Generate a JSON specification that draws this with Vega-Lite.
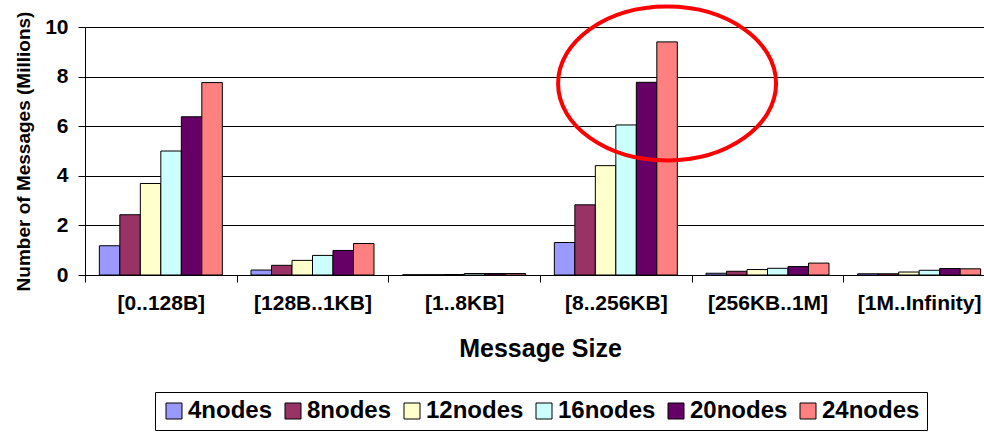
{
  "$schema": "https://vega.github.io/schema/vega-lite/v6.json",
  "autosize": "none",
  "width": 910,
  "height": 248,
  "padding": {"left": 85, "top": 27, "right": 0, "bottom": 157},
  "background": "white",
  "config": {"view": {"stroke": null}, "font": "Liberation Sans"},
  "layer": [
    {
      "data": {"values": [
        {"size": "[0..128B]", "nodes": "4nodes", "value": 1.18},
        {"size": "[0..128B]", "nodes": "8nodes", "value": 2.43},
        {"size": "[0..128B]", "nodes": "12nodes", "value": 3.69},
        {"size": "[0..128B]", "nodes": "16nodes", "value": 5.0},
        {"size": "[0..128B]", "nodes": "20nodes", "value": 6.38},
        {"size": "[0..128B]", "nodes": "24nodes", "value": 7.76},
        {"size": "[128B..1KB]", "nodes": "4nodes", "value": 0.2},
        {"size": "[128B..1KB]", "nodes": "8nodes", "value": 0.39},
        {"size": "[128B..1KB]", "nodes": "12nodes", "value": 0.59},
        {"size": "[128B..1KB]", "nodes": "16nodes", "value": 0.79},
        {"size": "[128B..1KB]", "nodes": "20nodes", "value": 0.99},
        {"size": "[128B..1KB]", "nodes": "24nodes", "value": 1.27},
        {"size": "[1..8KB]", "nodes": "4nodes", "value": 0.01},
        {"size": "[1..8KB]", "nodes": "8nodes", "value": 0.01},
        {"size": "[1..8KB]", "nodes": "12nodes", "value": 0.02},
        {"size": "[1..8KB]", "nodes": "16nodes", "value": 0.06},
        {"size": "[1..8KB]", "nodes": "20nodes", "value": 0.06},
        {"size": "[1..8KB]", "nodes": "24nodes", "value": 0.06},
        {"size": "[8..256KB]", "nodes": "4nodes", "value": 1.31},
        {"size": "[8..256KB]", "nodes": "8nodes", "value": 2.83},
        {"size": "[8..256KB]", "nodes": "12nodes", "value": 4.41},
        {"size": "[8..256KB]", "nodes": "16nodes", "value": 6.05},
        {"size": "[8..256KB]", "nodes": "20nodes", "value": 7.77},
        {"size": "[8..256KB]", "nodes": "24nodes", "value": 9.4},
        {"size": "[256KB..1M]", "nodes": "4nodes", "value": 0.07},
        {"size": "[256KB..1M]", "nodes": "8nodes", "value": 0.15},
        {"size": "[256KB..1M]", "nodes": "12nodes", "value": 0.22},
        {"size": "[256KB..1M]", "nodes": "16nodes", "value": 0.27},
        {"size": "[256KB..1M]", "nodes": "20nodes", "value": 0.34},
        {"size": "[256KB..1M]", "nodes": "24nodes", "value": 0.48},
        {"size": "[1M..Infinity]", "nodes": "4nodes", "value": 0.05},
        {"size": "[1M..Infinity]", "nodes": "8nodes", "value": 0.05},
        {"size": "[1M..Infinity]", "nodes": "12nodes", "value": 0.12},
        {"size": "[1M..Infinity]", "nodes": "16nodes", "value": 0.19},
        {"size": "[1M..Infinity]", "nodes": "20nodes", "value": 0.26},
        {"size": "[1M..Infinity]", "nodes": "24nodes", "value": 0.25}
      ]},
      "mark": {"type": "bar", "stroke": "black", "strokeWidth": 1},
      "encoding": {
        "x": {
          "field": "size", "type": "nominal",
          "sort": ["[0..128B]", "[128B..1KB]", "[1..8KB]", "[8..256KB]", "[256KB..1M]", "[1M..Infinity]"],
          "scale": {"paddingInner": 0, "paddingOuter": 0},
          "title": "Message Size",
          "axis": {
            "tickBand": "extent", "grid": false, "labelAngle": 0,
            "labelFont": "Liberation Sans", "labelFontSize": 21, "labelFontWeight": "bold", "labelColor": "black",
            "labelPadding": 10, "tickSize": 7, "tickColor": "black", "domainColor": "black",
            "titleFont": "Liberation Sans", "titleFontSize": 25, "titleFontWeight": "bold", "titleColor": "black",
            "titlePadding": 23
          }
        },
        "xOffset": {
          "field": "nodes", "type": "nominal",
          "sort": ["4nodes", "8nodes", "12nodes", "16nodes", "20nodes", "24nodes"],
          "scale": {"paddingInner": 0, "paddingOuter": 0.7}
        },
        "y": {
          "field": "value", "type": "quantitative",
          "scale": {"domain": [0, 10]},
          "title": "Number of Messages (Millions)",
          "axis": {
            "values": [0, 2, 4, 6, 8, 10], "grid": true, "gridColor": "black", "gridWidth": 1, "gridOpacity": 1,
            "labelFont": "Liberation Sans", "labelFontSize": 21, "labelFontWeight": "bold", "labelColor": "black",
            "labelPadding": 10, "tickSize": 7, "tickColor": "black", "domain": true, "domainColor": "black", "domainWidth": 1,
            "titleFont": "Liberation Sans", "titleFontSize": 19, "titleFontWeight": "bold", "titleColor": "black",
            "titlePadding": 11
          }
        },
        "color": {
          "field": "nodes", "type": "nominal",
          "sort": ["4nodes", "8nodes", "12nodes", "16nodes", "20nodes", "24nodes"],
          "scale": {
            "domain": ["4nodes", "8nodes", "12nodes", "16nodes", "20nodes", "24nodes"],
            "range": ["#9999FF", "#993366", "#FFFFCC", "#CCFFFF", "#660066", "#FF8080"]
          },
          "legend": {
            "orient": "none", "legendX": 70, "legendY": 365, "direction": "horizontal", "title": null,
            "symbolType": "square", "symbolSize": 256, "symbolStrokeColor": "black", "symbolStrokeWidth": 1, "symbolOpacity": 1,
            "labelFont": "Liberation Sans", "labelFontSize": 24, "labelFontWeight": "bold", "labelColor": "black",
            "labelOffset": 2, "columnPadding": 8, "padding": 7, "strokeColor": "black", "fillColor": "white"
          }
        }
      }
    },
    {
      "data": {"values": [{"size": "[8..256KB]", "nodes": "24nodes", "value": 7.72}]},
      "mark": {
        "type": "point",
        "shape": "M -1 0 C -1 -0.39 -0.552 -0.706 0 -0.706 C 0.552 -0.706 1 -0.39 1 0 C 1 0.39 0.552 0.706 0 0.706 C -0.552 0.706 -1 0.39 -1 0 Z",
        "size": 47524, "filled": false, "stroke": "#FF0000", "strokeWidth": 4, "opacity": 1
      },
      "encoding": {
        "x": {"field": "size", "type": "nominal", "sort": ["[0..128B]", "[128B..1KB]", "[1..8KB]", "[8..256KB]", "[256KB..1M]", "[1M..Infinity]"]},
        "xOffset": {"field": "nodes", "type": "nominal", "sort": ["4nodes", "8nodes", "12nodes", "16nodes", "20nodes", "24nodes"]},
        "y": {"field": "value", "type": "quantitative"}
      }
    }
  ]
}
